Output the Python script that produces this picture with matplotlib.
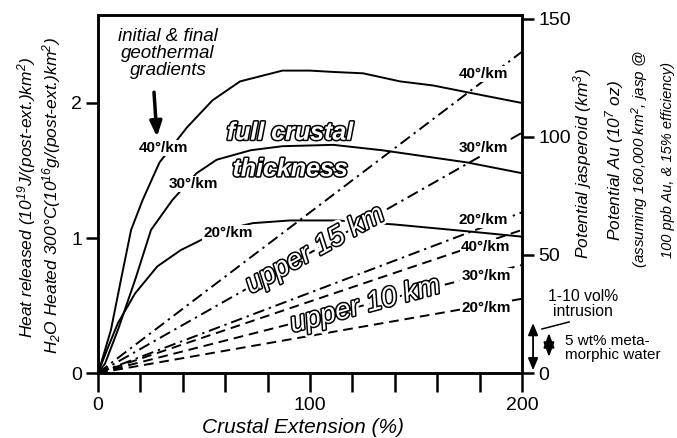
import matplotlib
matplotlib.use("Agg")
import matplotlib.pyplot as plt
import matplotlib.patheffects as pe
import numpy as np

plt.rcParams['font.family'] = 'Liberation Sans'
plt.rcParams['mathtext.fontset'] = 'custom'
plt.rcParams['mathtext.rm'] = 'Liberation Sans:italic'
plt.rcParams['mathtext.it'] = 'Liberation Sans:italic'
plt.rcParams['mathtext.bf'] = 'Liberation Sans:bold'

# full crustal thickness, heat released vs. extension
ext_40 = [0, 1.4, 6.1, 10.8, 15.6, 21, 29, 42, 54, 67, 87, 100, 111, 125, 142.5, 158, 174, 200]
heat_40 = [0, 0.07, 0.32, 0.69, 1.06, 1.28, 1.56, 1.82, 2.02, 2.16, 2.24, 2.24, 2.23, 2.22, 2.16, 2.13, 2.08, 2.0]
ext_30 = [0, 3.3, 9.4, 17.5, 25, 35, 46.5, 56, 72, 87, 111, 134, 174, 200]
heat_30 = [0, 0.07, 0.32, 0.69, 1.06, 1.28, 1.48, 1.58, 1.65, 1.68, 1.69, 1.65, 1.56, 1.48]
ext_20 = [0, 4.7, 9.4, 17.5, 28, 39, 50.5, 62, 73, 90.5, 113, 140, 174, 200]
heat_20 = [0, 0.19, 0.37, 0.59, 0.79, 0.91, 1.0, 1.07, 1.11, 1.13, 1.13, 1.10, 1.05, 1.01]

# upper 15 km and upper 10 km (straight lines)
ext_line = [0, 200]
upper15_40 = [0, 2.38]
upper15_30 = [0, 1.78]
upper15_20 = [0, 1.19]
upper10_40 = [0, 1.06]
upper10_30 = [0, 0.80]
upper10_20 = [0, 0.55]

grad_labels = ['40°/km', '30°/km', '20°/km']
jasp_per_heat = 57.2

fig = plt.figure(figsize=(6.77, 4.38), dpi=100)
ax = fig.add_axes([0.1448, 0.1484, 0.6263, 0.8174])

lw = 1.4
for x, y in [(ext_40, heat_40), (ext_30, heat_30), (ext_20, heat_20)]:
    ax.plot(x, y, color='k', lw=lw, solid_capstyle='butt')
dashdot = (0, (6, 2.5, 1.2, 2.5))
for y in [upper15_40, upper15_30, upper15_20]:
    ax.plot(ext_line, y, color='k', lw=lw, ls=dashdot)
for y in [upper10_40, upper10_30, upper10_20]:
    ax.plot(ext_line, y, color='k', lw=lw, ls=(0, (5, 3)))

ax.set_xlim(0, 200)
ax.set_ylim(0, 2.652)
ax.set_xticks([0, 100, 200])
ax.set_xticks(np.arange(20, 200, 20), minor=True)
ax.set_yticks([0, 1, 2])
ax.tick_params(axis='x', which='both', direction='out', length=14, width=1.8,
               pad=3, labelsize=14)
ax.tick_params(axis='y', direction='out', length=8.6, width=1.8, pad=3, labelsize=14)
for s in ax.spines.values():
    s.set_linewidth(1.8)

ax2 = ax.twinx()
ax2.set_ylim(0, 2.652 * jasp_per_heat)
ax2.set_yticks([0, 50, 100, 150])
ax2.tick_params(axis='y', direction='out', length=8.6, width=1.8, pad=3, labelsize=14)
for s in ax2.spines.values():
    s.set_linewidth(1.8)

# gradient labels
box = dict(fc='white', ec='none', pad=0.6)
lab_kw = dict(fontsize=11, fontweight='bold', ha='center', va='center', bbox=box, zorder=5)
for (x, y), t in zip([(30.7, 1.667), (44.8, 1.40), (61.3, 1.037)], grad_labels):
    ax.text(x, y, t, **lab_kw)
for (x, y), t in zip([(181.6, 2.215), (181.6, 1.667), (181.6, 1.133)], grad_labels):
    ax.text(x, y, t, **lab_kw)
for (x, y), t in zip([(183, 0.933), (183, 0.719), (183, 0.48)], grad_labels):
    ax.text(x, y, t, **lab_kw)

outline = [pe.Stroke(linewidth=2.2, foreground='black'), pe.Normal()]
halo = [pe.Stroke(linewidth=6, foreground='white'),
        pe.Stroke(linewidth=2.2, foreground='black'), pe.Normal()]
ax.text(90.6, 1.78, 'full crustal', fontsize=18, fontweight='bold', style='italic',
        color='white', ha='center', va='center', path_effects=outline, zorder=6)
ax.text(90.6, 1.51, 'thickness', fontsize=18, fontweight='bold', style='italic',
        color='white', ha='center', va='center', path_effects=outline, zorder=6)
ax.text(102.4, 0.91, 'upper 15 km', fontsize=20, style='italic', rotation=29,
        rotation_mode='anchor', color='white', ha='center', va='center',
        path_effects=halo, zorder=6)
ax.text(126, 0.50, 'upper 10 km', fontsize=20, style='italic', rotation=15,
        rotation_mode='anchor', color='white', ha='center', va='center',
        path_effects=halo, zorder=6)

ax.text(33, 2.37, 'initial & final\ngeothermal\ngradients', fontsize=13.5,
        style='italic', ha='center', va='center', linespacing=1.0)
ax.annotate('', xy=(27.8, 1.75), xytext=(26.4, 2.08),
            arrowprops=dict(arrowstyle='-|>,head_length=0.45,head_width=0.18',
                            mutation_scale=20, lw=2.5, color='k',
                            shrinkA=0, shrinkB=0))

# intrusion / metamorphic water ranges beside the right axis
ax.annotate('', xy=(205.2, 0.02), xytext=(205.2, 0.37), annotation_clip=False,
            arrowprops=dict(arrowstyle='<|-|>,head_length=0.6,head_width=0.25',
                            mutation_scale=12, lw=1.3, color='k',
                            shrinkA=0, shrinkB=0))
ax.annotate('', xy=(212.7, 0.119), xytext=(212.7, 0.296), annotation_clip=False,
            arrowprops=dict(arrowstyle='<|-|>,head_length=0.4,head_width=0.15',
                            mutation_scale=22, lw=1.3, color='k',
                            shrinkA=0, shrinkB=0))
ax.plot([209.4, 222.2], [0.326, 0.378], color='k', lw=1.1, clip_on=False)
ax.text(228.8, 0.511, '1-10 vol%\nintrusion', fontsize=11.3, ha='center',
        va='center', linespacing=0.95, clip_on=False)
ax.text(220.3, 0.185, '5 wt% meta-\nmorphic water', fontsize=11, ha='left',
        va='center', linespacing=0.95, clip_on=False)

# axis titles
fig.text(303 / 677, 1 - 433 / 438, 'Crustal Extension (%)', fontsize=15,
         style='italic', ha='center', va='baseline')
fig.text(32 / 677, 1 - 197 / 438, 'Heat released (10$^{19}$J/(post-ext.)km$^2$)',
         fontsize=12.5, style='italic', rotation=90, rotation_mode='anchor',
         ha='center', va='baseline')
fig.text(57 / 677, 1 - 196 / 438,
         'H$_2$O Heated 300°C(10$^{16}$g/(post-ext.)km$^2$)',
         fontsize=12.5, style='italic', rotation=90, rotation_mode='anchor',
         ha='center', va='baseline')
right_titles = [('Potential jasperoid (km$^3$)', 588, 163.5, 12.5),
                ('Potential Au (10$^7$ oz)', 620, 160.5, 12.5),
                ('(assuming 160,000 km$^2$, jasp @', 645, 159.5, 11),
                ('100 ppb Au, & 15% efficiency)', 672, 160, 10.5)]
for t, x, y, fs in right_titles:
    fig.text(x / 677, 1 - y / 438, t, fontsize=fs, style='italic', rotation=90,
             rotation_mode='anchor', ha='center', va='baseline')

fig.savefig('out.png', dpi=100)
